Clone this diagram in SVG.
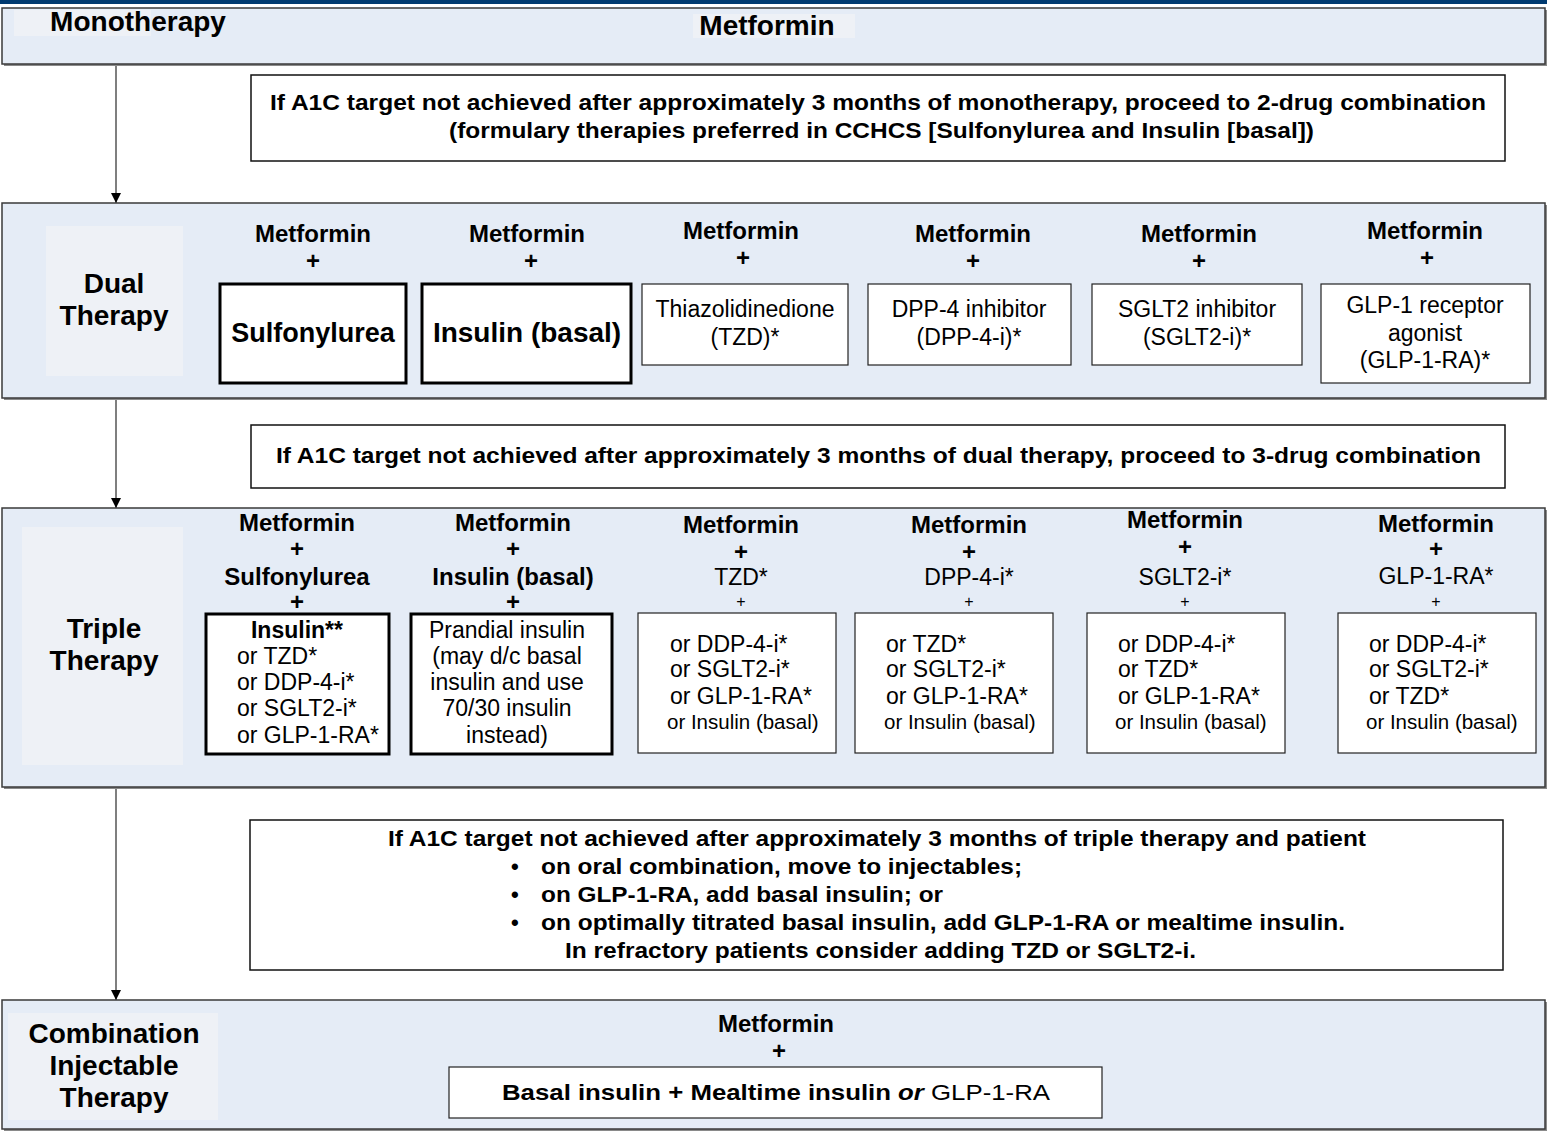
<svg xmlns="http://www.w3.org/2000/svg" width="1554" height="1132" viewBox="0 0 1554 1132">
<defs>
<style>
text{font-family:"Liberation Sans",Arial,sans-serif;fill:#000}
.b{font-weight:bold}
.c{text-anchor:middle}
.band{fill:#E5ECF6;stroke:#3a3a3a;stroke-width:1.5}
.shadow{fill:#8a8a8a}
.lab{fill:#EEF1F6}
.box{fill:#fff;stroke:#222;stroke-width:1.2}
.tbox{fill:#fff;stroke:#000;stroke-width:3}
.msg{fill:#fff;stroke:#111;stroke-width:1.5}
.f28{font-size:28px}
.f27{font-size:27px}
.f24{font-size:24px}
.f23{font-size:23px}
.f22{font-size:22px}
.f20{font-size:20.5px}
.f16{font-size:16px}
.conn{stroke:#555;stroke-width:1.5;fill:none}
</style>
<marker id="arr" viewBox="0 0 10 10" refX="10" refY="5" markerWidth="10" markerHeight="10" markerUnits="userSpaceOnUse" orient="auto">
<path d="M0,0 L10,5 L0,10 z" fill="#000"/>
</marker>
</defs>
<rect x="0" y="0" width="1547" height="4" fill="#003A70"/>

<g id="connectors">
<line class="conn" x1="116" y1="64" x2="116" y2="203" marker-end="url(#arr)"/>
<line class="conn" x1="116" y1="398" x2="116" y2="508" marker-end="url(#arr)"/>
<line class="conn" x1="116" y1="787" x2="116" y2="1000" marker-end="url(#arr)"/>
</g>

<g id="monotherapy">
<rect class="shadow" x="4" y="10" width="1543" height="56"/>
<rect class="band" x="2" y="8" width="1543" height="56"/>
<rect class="lab" x="14" y="10" width="137" height="26"/>
<text class="b f28 c" x="138" y="31">Monotherapy</text>
<rect class="lab" x="693" y="14" width="162" height="24"/>
<text class="b f28 c" x="767" y="35">Metformin</text>
</g>

<g id="msg1">
<rect class="msg" x="251" y="75" width="1254" height="86"/>
<text class="b f22" x="270" y="110" textLength="1216" lengthAdjust="spacingAndGlyphs">If A1C target not achieved after approximately 3 months of monotherapy, proceed to 2-drug combination</text>
<text class="b f22" x="449" y="138" textLength="865" lengthAdjust="spacingAndGlyphs">(formulary therapies preferred in CCHCS [Sulfonylurea and Insulin [basal])</text>
</g>

<g id="dual">
<rect class="shadow" x="4" y="205" width="1543" height="195"/>
<rect class="band" x="2" y="203" width="1543" height="195"/>
<rect class="lab" x="46" y="226" width="137" height="150"/>
<text class="b f28 c" x="114" y="293">Dual</text>
<text class="b f28 c" x="114" y="325">Therapy</text>
</g>

<g id="dual-su">
<text class="b f24 c" x="313" y="242">Metformin</text>
<text class="b f24 c" x="313" y="269">+</text>
<rect class="tbox" x="220" y="284" width="186" height="99"/>
<text class="b f27 c" x="313" y="342">Sulfonylurea</text>
</g>
<g id="dual-ins">
<text class="b f24 c" x="527" y="242">Metformin</text>
<text class="b f24 c" x="531" y="269">+</text>
<rect class="tbox" x="422" y="284" width="209" height="99"/>
<text class="b f28 c" x="527" y="342">Insulin (basal)</text>
</g>
<g id="dual-tzd">
<text class="b f24 c" x="741" y="239">Metformin</text>
<text class="b f24 c" x="743" y="266">+</text>
<rect class="box" x="642" y="284" width="206" height="81"/>
<text class="f23 c" x="745" y="317">Thiazolidinedione</text>
<text class="f23 c" x="745" y="345">(TZD)*</text>
</g>
<g id="dual-dpp">
<text class="b f24 c" x="973" y="242">Metformin</text>
<text class="b f24 c" x="973" y="269">+</text>
<rect class="box" x="868" y="284" width="203" height="81"/>
<text class="f23 c" x="969" y="317">DPP-4 inhibitor</text>
<text class="f23 c" x="969" y="345">(DPP-4-i)*</text>
</g>
<g id="dual-sglt">
<text class="b f24 c" x="1199" y="242">Metformin</text>
<text class="b f24 c" x="1199" y="269">+</text>
<rect class="box" x="1092" y="284" width="210" height="81"/>
<text class="f23 c" x="1197" y="317">SGLT2 inhibitor</text>
<text class="f23 c" x="1197" y="345">(SGLT2-i)*</text>
</g>
<g id="dual-glp">
<text class="b f24 c" x="1425" y="239">Metformin</text>
<text class="b f24 c" x="1427" y="266">+</text>
<rect class="box" x="1321" y="284" width="209" height="99"/>
<text class="f23 c" x="1425" y="313">GLP-1 receptor</text>
<text class="f23 c" x="1425" y="341">agonist</text>
<text class="f23 c" x="1425" y="368">(GLP-1-RA)*</text>
</g>

<g id="msg2">
<rect class="msg" x="251" y="425" width="1254" height="63"/>
<text class="b f22" x="276" y="463" textLength="1205" lengthAdjust="spacingAndGlyphs">If A1C target not achieved after approximately 3 months of dual therapy, proceed to 3-drug combination</text>
</g>

<g id="triple">
<rect class="shadow" x="4" y="510" width="1543" height="279"/>
<rect class="band" x="2" y="508" width="1543" height="279"/>
<rect class="lab" x="22" y="527" width="161" height="238"/>
<text class="b f28 c" x="104" y="638">Triple</text>
<text class="b f28 c" x="104" y="670">Therapy</text>
</g>

<g id="triple-su">
<text class="b f24 c" x="297" y="531">Metformin</text>
<text class="b f24 c" x="297" y="557">+</text>
<text class="b f24 c" x="297" y="585">Sulfonylurea</text>
<text class="b f24 c" x="297" y="610">+</text>
<rect class="tbox" x="206" y="614" width="183" height="140"/>
<text class="b f23 c" x="297" y="638">Insulin**</text>
<text class="f23" x="237" y="664">or TZD*</text>
<text class="f23" x="237" y="690">or DDP-4-i*</text>
<text class="f23" x="237" y="716">or SGLT2-i*</text>
<text class="f23" x="237" y="743">or GLP-1-RA*</text>
</g>
<g id="triple-ins">
<text class="b f24 c" x="513" y="531">Metformin</text>
<text class="b f24 c" x="513" y="557">+</text>
<text class="b f24 c" x="513" y="585">Insulin (basal)</text>
<text class="b f24 c" x="513" y="610">+</text>
<rect class="tbox" x="411" y="614" width="201" height="140"/>
<text class="f23 c" x="507" y="638">Prandial insulin</text>
<text class="f23 c" x="507" y="664">(may d/c basal</text>
<text class="f23 c" x="507" y="690">insulin and use</text>
<text class="f23 c" x="507" y="716">70/30 insulin</text>
<text class="f23 c" x="507" y="743">instead)</text>
</g>
<g id="triple-tzd">
<text class="b f24 c" x="741" y="533">Metformin</text>
<text class="b f24 c" x="741" y="560">+</text>
<text class="f23 c" x="741" y="585">TZD*</text>
<text class="f16 c" x="741" y="607">+</text>
<rect class="box" x="638" y="613" width="198" height="140"/>
<text class="f23" x="670" y="652">or DDP-4-i*</text>
<text class="f23" x="670" y="677">or SGLT2-i*</text>
<text class="f23" x="670" y="704">or GLP-1-RA*</text>
<text class="f20" x="667" y="729">or Insulin (basal)</text>
</g>
<g id="triple-dpp">
<text class="b f24 c" x="969" y="533">Metformin</text>
<text class="b f24 c" x="969" y="560">+</text>
<text class="f23 c" x="969" y="585">DPP-4-i*</text>
<text class="f16 c" x="969" y="607">+</text>
<rect class="box" x="855" y="613" width="198" height="140"/>
<text class="f23" x="886" y="652">or TZD*</text>
<text class="f23" x="886" y="677">or SGLT2-i*</text>
<text class="f23" x="886" y="704">or GLP-1-RA*</text>
<text class="f20" x="884" y="729">or Insulin (basal)</text>
</g>
<g id="triple-sglt">
<text class="b f24 c" x="1185" y="528">Metformin</text>
<text class="b f24 c" x="1185" y="555">+</text>
<text class="f23 c" x="1185" y="585">SGLT2-i*</text>
<text class="f16 c" x="1185" y="607">+</text>
<rect class="box" x="1087" y="613" width="198" height="140"/>
<text class="f23" x="1118" y="652">or DDP-4-i*</text>
<text class="f23" x="1118" y="677">or TZD*</text>
<text class="f23" x="1118" y="704">or GLP-1-RA*</text>
<text class="f20" x="1115" y="729">or Insulin (basal)</text>
</g>
<g id="triple-glp">
<text class="b f24 c" x="1436" y="532">Metformin</text>
<text class="b f24 c" x="1436" y="557">+</text>
<text class="f23 c" x="1436" y="584">GLP-1-RA*</text>
<text class="f16 c" x="1436" y="607">+</text>
<rect class="box" x="1338" y="613" width="198" height="140"/>
<text class="f23" x="1369" y="652">or DDP-4-i*</text>
<text class="f23" x="1369" y="677">or SGLT2-i*</text>
<text class="f23" x="1369" y="704">or TZD*</text>
<text class="f20" x="1366" y="729">or Insulin (basal)</text>
</g>

<g id="msg3">
<rect class="msg" x="250" y="820" width="1253" height="150"/>
<text class="b f22" x="388" y="846" textLength="978" lengthAdjust="spacingAndGlyphs">If A1C target not achieved after approximately 3 months of triple therapy and patient</text>
<text class="b f22" x="511" y="874">•</text>
<text class="b f22" x="541" y="874" textLength="481" lengthAdjust="spacingAndGlyphs">on oral combination, move to injectables;</text>
<text class="b f22" x="511" y="902">•</text>
<text class="b f22" x="541" y="902" textLength="402" lengthAdjust="spacingAndGlyphs">on GLP-1-RA, add basal insulin; or</text>
<text class="b f22" x="511" y="930">•</text>
<text class="b f22" x="541" y="930" textLength="804" lengthAdjust="spacingAndGlyphs">on optimally titrated basal insulin, add GLP-1-RA or mealtime insulin.</text>
<text class="b f22" x="565" y="958" textLength="631" lengthAdjust="spacingAndGlyphs">In refractory patients consider adding TZD or SGLT2-i.</text>
</g>

<g id="combination">
<rect class="shadow" x="4" y="1002" width="1543" height="129"/>
<rect class="band" x="2" y="1000" width="1543" height="129"/>
<rect class="lab" x="8" y="1013" width="210" height="107"/>
<text class="b f28 c" x="114" y="1043">Combination</text>
<text class="b f28 c" x="114" y="1075">Injectable</text>
<text class="b f28 c" x="114" y="1107">Therapy</text>
<text class="b f24 c" x="776" y="1032">Metformin</text>
<text class="b f24 c" x="779" y="1059">+</text>
<rect class="box" x="449" y="1067" width="653" height="51"/>
<text class="f22" x="502" y="1100" textLength="548" lengthAdjust="spacingAndGlyphs"><tspan class="b">Basal insulin + Mealtime insulin </tspan><tspan class="b" font-style="italic">or</tspan> GLP-1-RA</text>
</g>
</svg>
